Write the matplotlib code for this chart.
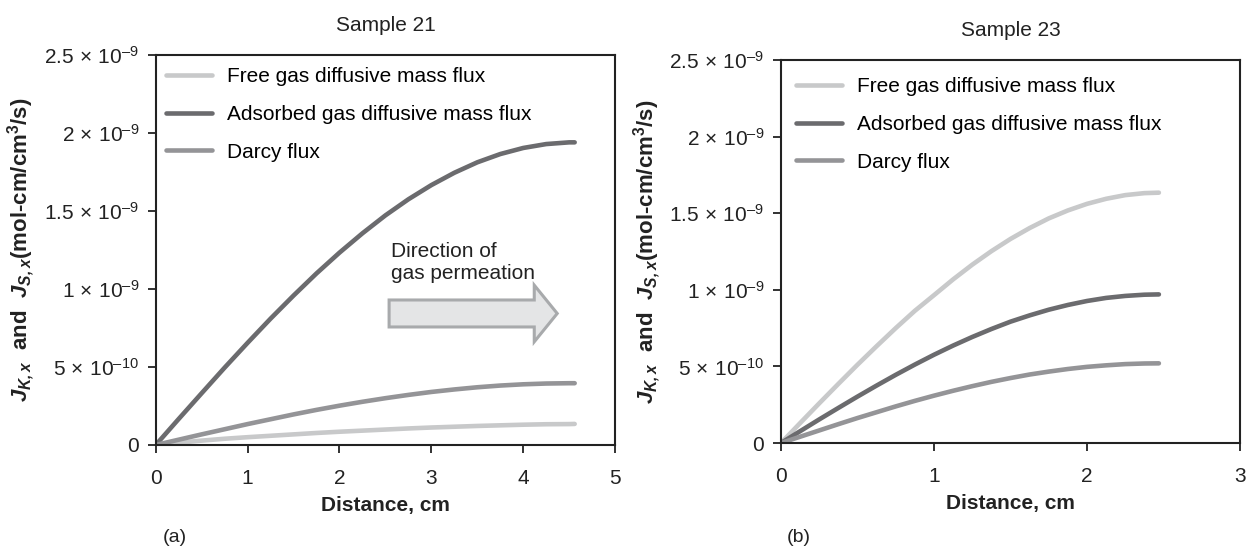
import matplotlib
matplotlib.use("Agg")
import matplotlib.pyplot as plt
from matplotlib.patches import FancyArrow

plt.rcParams['font.family'] = ['Liberation Sans', 'DejaVu Sans']
plt.rcParams['mathtext.fontset'] = 'custom'
plt.rcParams['mathtext.rm'] = 'Liberation Sans'
plt.rcParams['mathtext.it'] = 'Liberation Sans:italic'
plt.rcParams['mathtext.bf'] = 'Liberation Sans:bold'
plt.rcParams['mathtext.bfit'] = 'Liberation Sans:bold:italic'

# data (flux in 1e-9 mol-cm/cm3/s)
series_names = ["Free gas diffusive mass flux", "Adsorbed gas diffusive mass flux", "Darcy flux"]
series_colors = ["#c8c9ca", "#6b6b6e", "#949497"]

x21 = [0, 0.25, 0.5, 0.75, 1.0, 1.25, 1.5, 1.75, 2.0, 2.25, 2.5, 2.75,
       3.0, 3.25, 3.5, 3.75, 4.0, 4.25, 4.5, 4.56]
free21 = [0, 0.015, 0.028, 0.040, 0.050, 0.059, 0.068, 0.077, 0.085, 0.092, 0.099, 0.106,
          0.112, 0.117, 0.122, 0.126, 0.130, 0.133, 0.134, 0.135]
ads21 = [0, 0.167, 0.332, 0.496, 0.655, 0.810, 0.958, 1.100, 1.233, 1.357, 1.472, 1.575,
         1.666, 1.745, 1.812, 1.865, 1.904, 1.929, 1.940, 1.940]
darcy21 = [0, 0.034, 0.068, 0.101, 0.134, 0.165, 0.196, 0.225, 0.252, 0.277, 0.300, 0.321,
           0.340, 0.356, 0.370, 0.381, 0.389, 0.394, 0.396, 0.396]

x23 = [0, 0.125, 0.25, 0.375, 0.5, 0.625, 0.75, 0.875, 1.0, 1.125, 1.25, 1.375,
       1.5, 1.625, 1.75, 1.875, 2.0, 2.125, 2.25, 2.375, 2.47]
free23 = [0, 0.130, 0.259, 0.386, 0.511, 0.632, 0.750, 0.863, 0.965, 1.068, 1.164, 1.252,
          1.332, 1.403, 1.466, 1.518, 1.561, 1.594, 1.618, 1.631, 1.634]
ads23 = [0, 0.077, 0.154, 0.229, 0.303, 0.375, 0.445, 0.512, 0.576, 0.636, 0.692, 0.744,
         0.792, 0.833, 0.870, 0.901, 0.927, 0.947, 0.960, 0.968, 0.970]
darcy23 = [0, 0.041, 0.082, 0.123, 0.163, 0.201, 0.239, 0.275, 0.309, 0.341, 0.371, 0.399,
           0.424, 0.447, 0.466, 0.483, 0.497, 0.507, 0.515, 0.519, 0.520]

ytick_vals = [0, 0.5e-9, 1.0e-9, 1.5e-9, 2.0e-9, 2.5e-9]
ytick_labels = ["0", "5$\\,\\times\\,$10$^{\u201310}$", "1$\\,\\times\\,$10$^{\u20139}$",
                "1.5$\\,\\times\\,$10$^{\u20139}$", "2$\\,\\times\\,$10$^{\u20139}$",
                "2.5$\\,\\times\\,$10$^{\u20139}$"]

ylabel = (r"$\mathbfit{J}_{\mathbfit{K,x}}$  and  $\mathbfit{J}_{\mathbfit{S,x}}$"
          r"(mol-cm/cm$^{\mathbf{3}}$/s)")

fig = plt.figure(figsize=(12.52, 5.51), dpi=100)
ax1 = fig.add_axes([0.1244, 0.1924, 0.3669, 0.7078])
ax2 = fig.add_axes([0.6238, 0.1960, 0.3666, 0.6951])

FS = 15


def draw_panel(ax, x, curves, xmax, title, title_pad, leg_anchor):
    for vals, name, col in zip(curves, series_names, series_colors):
        ax.plot(x, [v * 1e-9 for v in vals], color=col, lw=3.3,
                solid_capstyle='round', label=name)
    ax.set_xlim(0, xmax)
    ax.set_ylim(0, 2.5e-9)
    ax.set_xticks(range(xmax + 1))
    ax.set_yticks(ytick_vals)
    ax.set_yticklabels(ytick_labels)
    ax.tick_params(direction='out', length=6, width=1.3, labelsize=FS, colors='#222222')
    ax.tick_params(axis='x', pad=11)
    ax.tick_params(axis='y', pad=6)
    for sp in ax.spines.values():
        sp.set_linewidth(1.5)
        sp.set_color('#222222')
    ax.set_xlabel("Distance, cm", fontsize=FS, fontweight='bold', color='#222222', labelpad=6)
    ax.set_ylabel(ylabel, fontsize=16, fontweight='bold', color='#222222')
    ax.yaxis.set_label_coords(-0.258, 0.5)
    ax.set_title(title, fontsize=FS, pad=title_pad, color='#222222')
    ax.legend(loc='upper left', bbox_to_anchor=leg_anchor, frameon=False,
              fontsize=FS, handlelength=2.2, handletextpad=0.72, labelspacing=0.9,
              borderaxespad=0, borderpad=0.4)


draw_panel(ax1, x21, [free21, ads21, darcy21], 5, "Sample 21", 17, (0.004, 0.99))
draw_panel(ax2, x23, [free23, ads23, darcy23], 3, "Sample 23", 17, (0.015, 0.977))

# direction arrow on panel (a)
ax1.add_patch(FancyArrow(2.54, 0.843e-9, 1.83, 0, width=0.173e-9, head_width=0.363e-9,
                         head_length=0.25, length_includes_head=True,
                         facecolor='#e4e5e6', edgecolor='#a8aaac', lw=2.2))
ax1.text(2.56, 1.173e-9, "Direction of\ngas permeation", fontsize=FS, color='#222222',
         va='center', ha='left', linespacing=1.2)

fig.text(175 / 1252, 1 - 538 / 551, "(a)", fontsize=14, ha='center', va='center', color='#222222')
fig.text(799 / 1252, 1 - 538 / 551, "(b)", fontsize=14, ha='center', va='center', color='#222222')

fig.savefig("out.png", dpi=100)
